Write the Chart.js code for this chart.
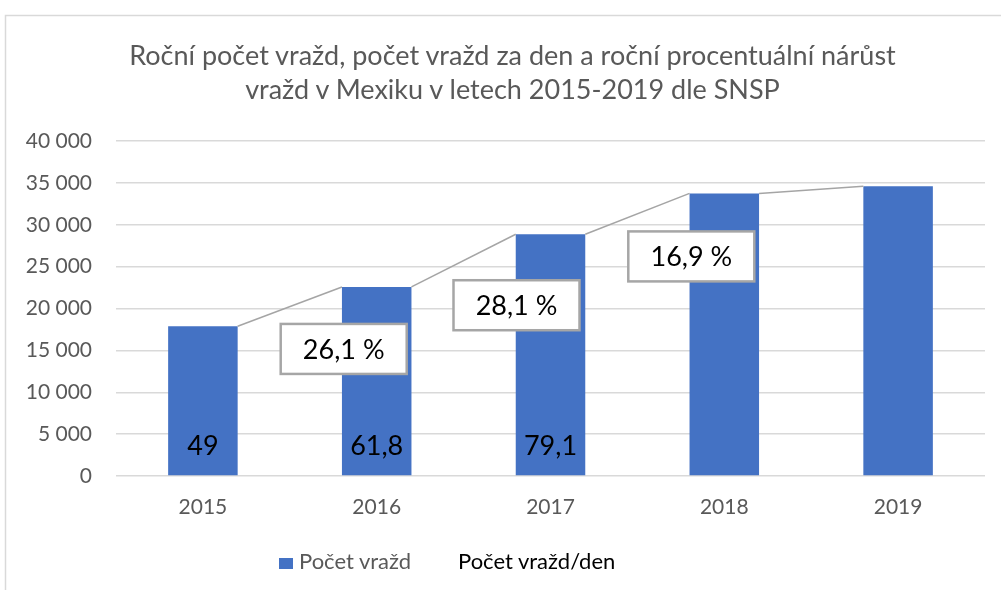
<!DOCTYPE html>
<html>
<head>
<meta charset="utf-8">
<script src="https://cdn.jsdelivr.net/npm/chart.js@4.4.1/dist/chart.umd.min.js"></script>
<style>
html,body{margin:0;padding:0;background:#fff}
#wrap{position:relative;width:1001px;height:590px;overflow:hidden}
#titulek{position:absolute;left:24px;right:0;top:38px;text-align:center;font-family:Lato,sans-serif;font-size:27px;line-height:34px;color:#595959}
#legend{position:absolute;left:279px;top:547px;font-family:Lato,sans-serif;font-size:22px;white-space:nowrap}
#legend span{position:absolute;top:0}
#legend .box{display:inline-block;width:14px;height:11px;position:absolute;top:11px}
</style>
</head>
<body>
<div id="wrap">
<canvas id="graf" width="1001" height="590"></canvas>
<div id="titulek"></div>
<div id="legend"></div>
</div>
<script>

let roky=["2015","2016","2017","2018","2019"]
let pocetVrazd=[17887,22575,28868,33743,34608]
let vrazdDen=[49,61.8,79.1,null,null]
let narust=[null,26.1,28.1,16.9,null]

let nazevVrazd="Počet vražd"
let nazevDen="Počet vražd/den"
let titulek=["Roční počet vražd, počet vražd za den a roční procentuální nárůst","vražd v Mexiku v letech 2015-2019 dle SNSP"]

let modra="#4472c4"
let seda="#595959"

// posun rámečků s procenty vůči sloupci (dx, dy od vrcholu)
let posunRamecku=[null,[-33,62],[-34,71],[-33,63],null]


function cislo(v){
return String(v).replace(".",",").replace(/\B(?=(\d{3})+(?!\d))/g," ")
}


let ramecek={
id:"ramecek",
beforeDraw(chart){
let c=chart.ctx
c.save()
c.strokeStyle="#d9d9d9"
c.lineWidth=1.5
c.strokeRect(5.5,15.5,1200,800)
c.restore()
}
}


let popisky={
id:"popisky",
afterDatasetsDraw(chart){

let c=chart.ctx
let bary=chart.getDatasetMeta(0).data

c.save()

// spojnice mezi sloupci
c.strokeStyle="#a5a5a5"
c.lineWidth=1.5
for(let i=0;i<bary.length-1;i++){
let a=bary[i],b=bary[i+1]
c.beginPath()
c.moveTo(a.x+a.width/2,a.y)
c.lineTo(b.x-b.width/2,b.y)
c.stroke()
}

c.font="27px Lato"
c.fillStyle="#000"
c.textAlign="center"
c.textBaseline="middle"

// vraždy za den
vrazdDen.forEach((v,i)=>{
if(v==null) return
let b=bary[i]
c.fillText(cislo(v),b.x,b.base-29)
})

// procentuální nárůst
narust.forEach((v,i)=>{
if(v==null) return
let b=bary[i]
let p=posunRamecku[i]
let cx=b.x+p[0], cy=b.y+p[1]
c.fillStyle="#fff"
c.fillRect(cx-63,cy-25,126,50)
c.strokeStyle="#a6a6a6"
c.lineWidth=2.5
c.strokeRect(cx-63,cy-25,126,50)
c.fillStyle="#000"
c.fillText(cislo(v)+" %",cx,cy+1)
})

c.restore()

}
}


new Chart(document.getElementById("graf"),{

type:"bar",

data:{
labels:roky,
datasets:[{
label:nazevVrazd,
data:pocetVrazd,
backgroundColor:modra,
barPercentage:0.4,
categoryPercentage:1
},{
type:"line",
label:nazevDen,
data:vrazdDen,
showLine:false,
pointRadius:0,
borderColor:"rgba(0,0,0,0)",
backgroundColor:"rgba(0,0,0,0)"
}]
},

options:{
responsive:false,
animation:false,
layout:{padding:{left:0,right:16,top:141,bottom:0}},
plugins:{
legend:{display:false},
tooltip:{enabled:false},
title:{display:false}
},
scales:{
x:{
grid:{display:false},
border:{display:false},
ticks:{color:seda,font:{family:"Lato",size:21},padding:11},
afterFit(s){s.height=114}
},
y:{
min:0,
max:40000,
ticks:{
stepSize:5000,
color:seda,
font:{family:"Lato",size:21},
padding:24,
callback:v=>cislo(v)
},
grid:{color:"#d9d9d9",lineWidth:1.5,drawTicks:false},
border:{display:false},
afterFit(s){s.width=116}
}
}
},

plugins:[ramecek,popisky]

})


document.getElementById("titulek").innerHTML=titulek.join("<br>")

// legenda
let leg=document.getElementById("legend")
leg.innerHTML=
'<span class="box" style="left:0;background:'+modra+'"></span>'+
'<span style="left:20px;color:'+seda+'">'+nazevVrazd+'</span>'+
'<span style="left:179px;color:#000">'+nazevDen+'</span>'

</script>
</body>
</html>
